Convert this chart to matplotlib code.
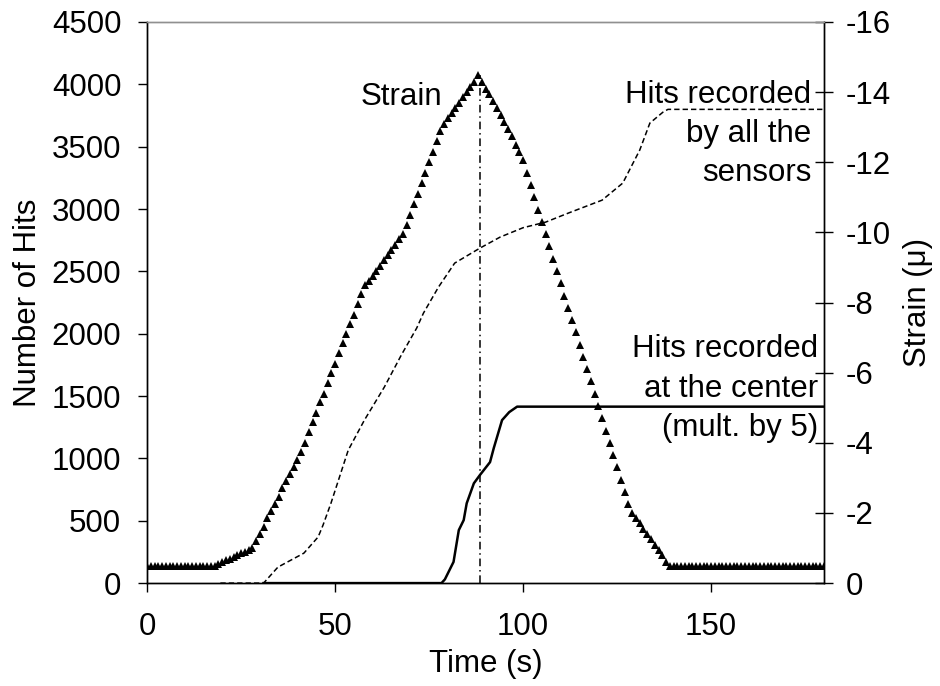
import numpy as np
import matplotlib

matplotlib.use("Agg")
import matplotlib.pyplot as plt

plt.rcParams["font.family"] = ["Liberation Sans", "DejaVu Sans"]
plt.rcParams["axes.unicode_minus"] = False
FS = 22.5

# strain gauge, one reading per second (right axis, micro-strain)
strain_time = np.arange(0, 181)
strain = [
    -0.5, -0.5, -0.5, -0.5, -0.5, -0.5, -0.5, -0.5, -0.5, -0.5,
    -0.5, -0.5, -0.5, -0.5, -0.5, -0.5, -0.5, -0.5, -0.5, -0.55,
    -0.6, -0.65, -0.7, -0.75, -0.8, -0.85, -0.9, -0.95, -1.0, -1.2,
    -1.4, -1.6, -1.85, -2.05, -2.25, -2.45, -2.7, -2.9, -3.1, -3.3,
    -3.5, -3.75, -4.0, -4.3, -4.6, -4.85, -5.15, -5.4, -5.7, -6.0,
    -6.25, -6.55, -6.85, -7.1, -7.4, -7.65, -7.95, -8.25, -8.5, -8.6,
    -8.75, -8.9, -9.05, -9.2, -9.35, -9.5, -9.65, -9.8, -9.95, -10.2,
    -10.5, -10.8, -11.1, -11.4, -11.7, -12.0, -12.3, -12.6, -12.9, -13.1,
    -13.25, -13.4, -13.55, -13.7, -13.85, -14.0, -14.15, -14.3, -14.5, -14.3,
    -14.1, -13.95, -13.75, -13.55, -13.35, -13.15, -12.95, -12.75, -12.5, -12.3,
    -12.05, -11.7, -11.35, -11.0, -10.65, -10.3, -9.95, -9.6, -9.25, -8.9,
    -8.55, -8.2, -7.85, -7.5, -7.15, -6.8, -6.45, -6.1, -5.75, -5.4,
    -5.05, -4.7, -4.35, -4.0, -3.65, -3.3, -2.95, -2.6, -2.25, -2.0,
    -1.85, -1.7, -1.55, -1.4, -1.25, -1.1, -0.95, -0.8, -0.6, -0.5,
    -0.5, -0.5, -0.5, -0.5, -0.5, -0.5, -0.5, -0.5, -0.5, -0.5,
    -0.5, -0.5, -0.5, -0.5, -0.5, -0.5, -0.5, -0.5, -0.5, -0.5,
    -0.5, -0.5, -0.5, -0.5, -0.5, -0.5, -0.5, -0.5, -0.5, -0.5,
    -0.5, -0.5, -0.5, -0.5, -0.5, -0.5, -0.5, -0.5, -0.5, -0.5,
    -0.5,
]

# cumulative hits, all sensors
all_time = [19.5, 31, 34.8, 41.7, 45.5, 46.8, 48.9, 53.5, 57.8, 61, 63.1,
            67.6, 71.7, 73.5, 77.5, 81.8, 88.5, 93.9, 100, 106, 112, 121,
            126.5, 131, 133.7, 137.2, 138.5, 180]
all_hits = [0, 0, 128, 240, 370, 465, 640, 1066, 1307, 1467, 1572,
            1828, 2045, 2165, 2374, 2566, 2686, 2775, 2850, 2895, 2967, 3071,
            3208, 3472, 3689, 3777, 3799, 3799]

# cumulative hits at the centre sensor (x5)
center_time = [31, 78.3, 79.2, 81.5, 82.9, 84.2, 85, 86.9, 88.5, 91.2, 92.2,
               94.4, 96.3, 98.4, 180]
center_hits = [0, 0, 30, 170, 425, 505, 640, 800, 866, 970, 1083,
               1307, 1371, 1415, 1415]

peak_time = 88.5
peak_hits = 4078

fig = plt.figure(figsize=(9.4, 6.86), dpi=100)
ax = fig.add_axes([0.1564, 0.150, 0.7202, 0.818])
ax2 = ax.twinx()

ax.plot(all_time, all_hits, color="black", lw=1.1, ls=(0, (3.5, 2)))
ax.plot(center_time, center_hits, color="black", lw=1.8)
ax.plot([peak_time, peak_time], [0, peak_hits], color="black", lw=1.1,
        ls=(0, (5, 2.5, 1, 2.5)))
ax2.plot(strain_time, strain, ls="none", marker="^", ms=5.2, color="black",
         markeredgewidth=0)

ax.set_xlim(0, 180)
ax.set_ylim(0, 4500)
ax2.set_ylim(0, -16)
ax.set_xticks([0, 50, 100, 150])
ax.set_yticks(np.arange(0, 4501, 500))
ax2.set_yticks(np.arange(0, -17, -2))

for a in (ax, ax2):
    for s in a.spines.values():
        s.set_linewidth(1.0)
    a.spines["top"].set_color("#909090")
    a.spines["left"].set_color("black")
    a.spines["right"].set_color("black")
    a.spines["bottom"].set_color("black")

ax.tick_params(axis="both", labelsize=FS, direction="out", length=6.5, width=1)
ax.tick_params(axis="x", pad=14)
ax.tick_params(axis="y", pad=12)
ax2.tick_params(axis="y", labelsize=FS, direction="inout", length=13, width=1,
                pad=9)

ax.set_xlabel("Time (s)", fontsize=FS, labelpad=5)
ax.set_ylabel("Number of Hits", fontsize=FS, labelpad=6)
ax2.set_ylabel("Strain (\u03bc)", fontsize=FS, labelpad=9)

ax.text(67.6, 3900, "Strain", fontsize=FS, ha="center", va="center")
ax.text(176.6, 3600, "Hits recorded\nby all the\nsensors", fontsize=FS,
        ha="right", va="center", linespacing=1.4)
ax.text(178.4, 1560, "Hits recorded\nat the center\n(mult. by 5)", fontsize=FS,
        ha="right", va="center", linespacing=1.4)

fig.savefig("out.png", dpi=100)
